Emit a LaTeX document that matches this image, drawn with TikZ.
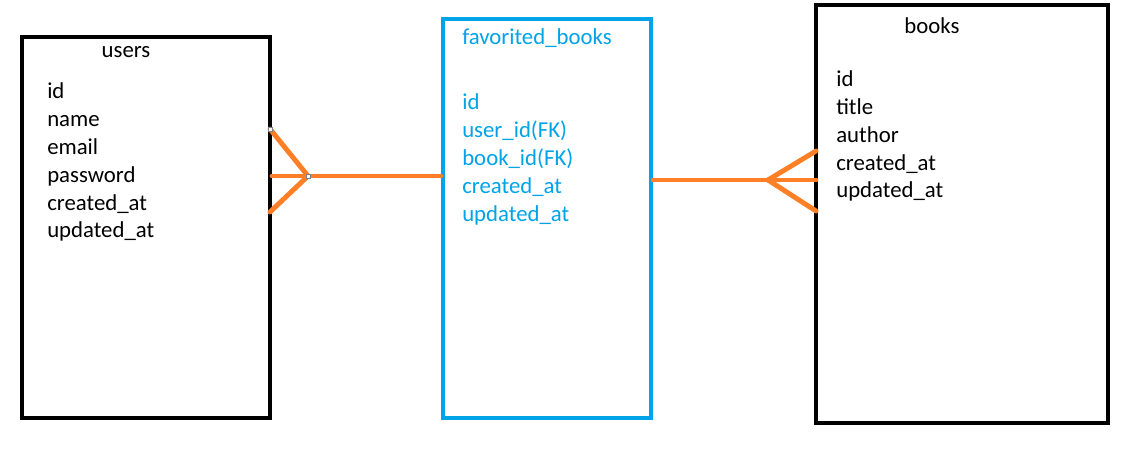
\documentclass[tikz,border=0pt]{standalone}
\usepackage{fontspec}
\setmainfont{Carlito}
\definecolor{paintorange}{RGB}{255,127,39}
\definecolor{paintblue}{RGB}{0,162,232}
\begin{document}
\begin{tikzpicture}[x=0.025cm,y=-0.025cm,
    tbl/.style={draw,rectangle,line width=2.9pt,inner sep=0pt},
    fields/.style={anchor=base west,align=left,inner sep=0pt,font=\fontsize{16.2}{19.9}\selectfont},
    ttl/.style={anchor=base,inner sep=0pt,font=\fontsize{16.2}{19.9}\selectfont},
    rel/.style={paintorange,line width=3.5pt,line cap=round},
    handle/.style={draw=gray,fill=white,line width=0.4pt,minimum size=0.11cm,inner sep=0pt}]
    \useasboundingbox (0,0) rectangle (1137,457);

    % Tables
    \node[tbl,minimum width=6.2cm,minimum height=9.525cm] (users) at (146,227.5) {};
    \node[tbl,draw=paintblue,minimum width=5.2cm,minimum height=9.975cm] (fav) at (547,218.5) {};
    \node[tbl,minimum width=7.3cm,minimum height=10.45cm] (books) at (962,214) {};

    % Users (anchored at the baseline of the last line)
    \node[ttl] (userstitle) at (126,58) {users};
    \node[fields] (userscols) at (47,238) {id\\name\\email\\password\\created\_at\\updated\_at};

    % Favorited books
    \node[fields,text=paintblue] (favtitle) at (462,45) {favorited\_books};
    \node[fields,text=paintblue] (favcols) at (462,221.5) {id\\user\_id(FK)\\book\_id(FK)\\created\_at\\updated\_at};

    % Books
    \node[ttl] (bookstitle) at (932,33.5) {books};
    \node[fields] (bookscols) at (836,198) {id\\title\\author\\created\_at\\updated\_at};

    % Users -- favorited books (crow's foot at users)
    \coordinate (ufoot) at (308,176);
    \coordinate (ua) at (270,129);
    \coordinate (ub) at (272,176);
    \coordinate (uc) at (270,212);
    \draw[rel] (ua) -- (ufoot);
    \draw[rel] (ub) -- (ufoot);
    \draw[rel] (uc) -- (ufoot);
    \draw[rel] (ufoot) -- (ufoot -| fav.west);
    \node[handle] (h1) at (ua) {};
    \node[handle] (h2) at (ufoot) {};

    % Favorited books -- books (crow's foot at books)
    \coordinate (bfoot) at (768,180);
    \coordinate (ba) at (816,151);
    \coordinate (bb) at (816,180);
    \coordinate (bc) at (816,211);
    \draw[rel] (fav.east |- bfoot) -- (bfoot);
    \draw[rel] (bfoot) -- (ba);
    \draw[rel] (bfoot) -- (bb);
    \draw[rel] (bfoot) -- (bc);
\end{tikzpicture}
\end{document}
